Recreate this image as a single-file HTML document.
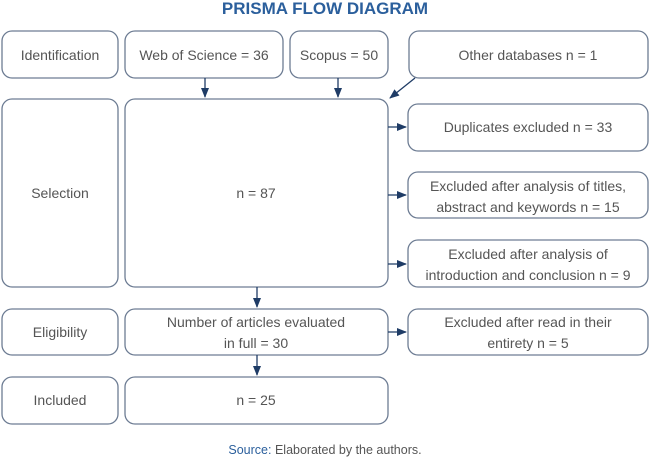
<!DOCTYPE html>
<html><head><meta charset="utf-8"><style>
html,body{margin:0;padding:0;background:#fff;}
svg{display:block;}
text{font-family:"Liberation Sans",sans-serif;fill:#555;font-size:14px;}
.t{fill:#2b5f9c;font-weight:bold;font-size:17px;}
rect{fill:#fff;stroke:#6d7c93;stroke-width:1.3;}
line{stroke:#1f3c66;stroke-width:1.3;}
</style></head><body>
<svg width="650" height="458" viewBox="0 0 650 458">
<defs><marker id="a" markerWidth="10" markerHeight="8" refX="9" refY="4" orient="auto" markerUnits="userSpaceOnUse"><path d="M0,0 L10,4 L0,8 z" fill="#1f3c66"/></marker></defs>
<text class="t" x="325" y="14" text-anchor="middle">PRISMA FLOW DIAGRAM</text>
<g>
<rect x="2" y="31" width="116" height="47" rx="10"/>
<rect x="125" y="31" width="158" height="47" rx="10"/>
<rect x="290" y="31" width="98" height="47" rx="10"/>
<rect x="409" y="31" width="239" height="47" rx="10"/>
<rect x="2" y="99" width="116" height="188" rx="10"/>
<rect x="125" y="99" width="263" height="188" rx="10"/>
<rect x="408" y="104" width="240" height="47" rx="10"/>
<rect x="408" y="172" width="240" height="46" rx="10"/>
<rect x="408" y="240" width="240" height="47" rx="10"/>
<rect x="2" y="309" width="116" height="46" rx="10"/>
<rect x="125" y="309" width="263" height="46" rx="10"/>
<rect x="408" y="309" width="240" height="46" rx="10"/>
<rect x="2" y="377" width="116" height="47" rx="10"/>
<rect x="125" y="377" width="263" height="47" rx="10"/>
</g>
<g marker-end="url(#a)">
<line x1="205" y1="78" x2="205" y2="97"/>
<line x1="338" y1="78" x2="338" y2="97"/>
<line x1="415" y1="78" x2="390" y2="98"/>
<line x1="388" y1="127" x2="406" y2="127"/>
<line x1="388" y1="195" x2="406" y2="195"/>
<line x1="388" y1="264" x2="406" y2="264"/>
<line x1="257" y1="287" x2="257" y2="307"/>
<line x1="388" y1="332" x2="406" y2="332"/>
<line x1="257" y1="355" x2="257" y2="375"/>
</g>
<g text-anchor="middle">
<text x="60" y="60">Identification</text>
<text x="204" y="60">Web of Science = 36</text>
<text x="339" y="60">Scopus = 50</text>
<text x="528" y="60">Other databases n = 1</text>
<text x="60" y="198">Selection</text>
<text x="256" y="198">n = 87</text>
<text x="528" y="132">Duplicates excluded n = 33</text>
<text x="528" y="191">Excluded after analysis of titles,</text>
<text x="528" y="212">abstract and keywords n = 15</text>
<text x="528" y="259">Excluded after analysis of</text>
<text x="528" y="280">introduction and conclusion n = 9</text>
<text x="60" y="337">Eligibility</text>
<text x="256" y="327">Number of articles evaluated</text>
<text x="256" y="348">in full = 30</text>
<text x="528" y="327">Excluded after read in their</text>
<text x="528" y="348">entirety n = 5</text>
<text x="60" y="405">Included</text>
<text x="256" y="405">n = 25</text>
<text x="325" y="454" style="font-size:12.5px"><tspan style="fill:#2b5f9c">Source:</tspan> Elaborated by the authors.</text>
</g>
</svg>
</body></html>
